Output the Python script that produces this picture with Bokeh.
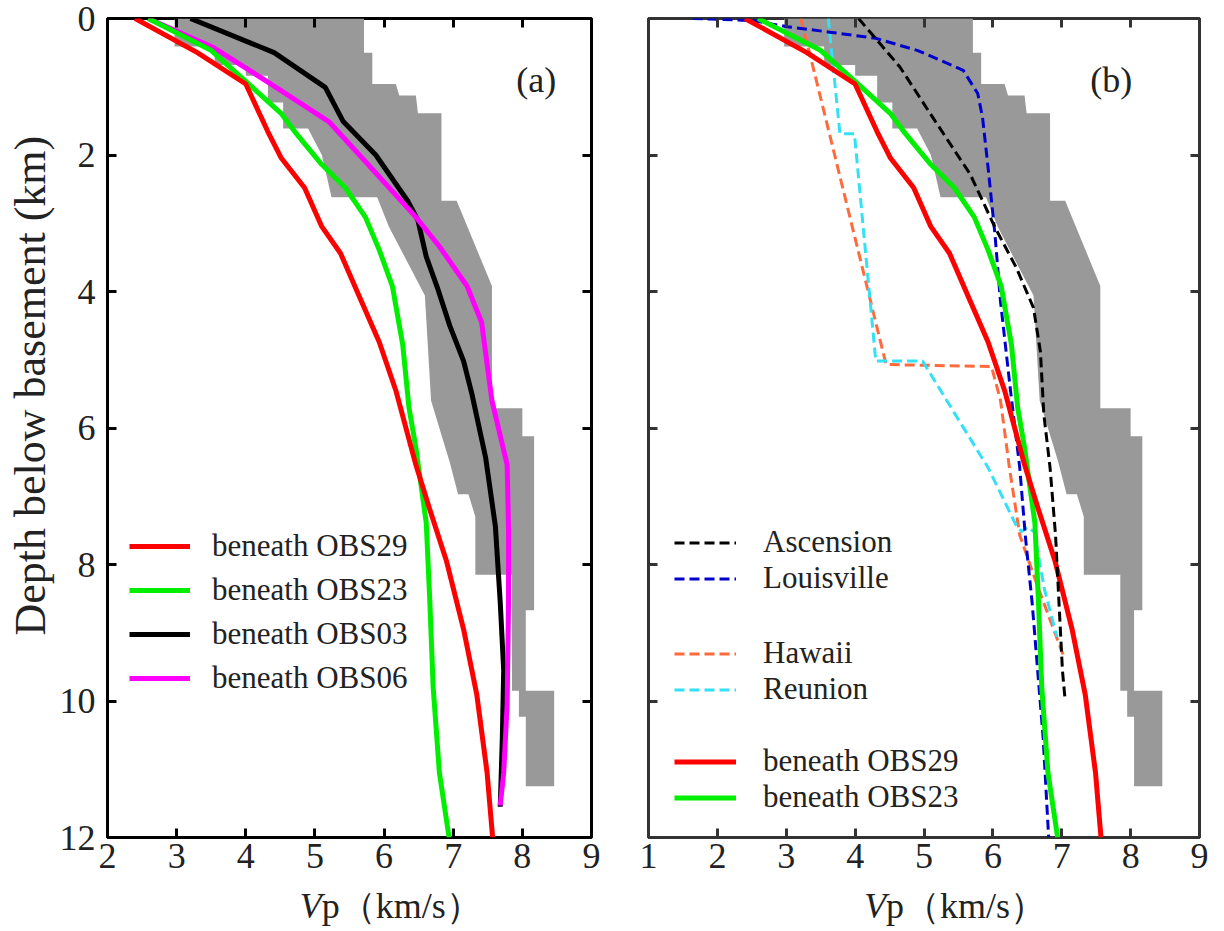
import numpy as np
from bokeh.plotting import figure
from bokeh.models import (Range1d, FixedTicker, LinearAxis, Label, Legend, LegendItem,
                          CustomJSTickFormatter)
from bokeh.layouts import gridplot
from bokeh.embed import file_html
from bokeh.resources import INLINE

# ---------------- data (Vp in km/s, depth below basement in km) ----------------
obs29_vp = [2.40, 3.30, 4.00, 4.32, 4.51, 4.85, 5.10, 5.37, 5.68, 5.93, 6.17, 6.46, 6.66, 6.90, 7.15, 7.34, 7.49, 7.57]
obs29_z = [0.00, 0.50, 0.96, 1.66, 2.04, 2.48, 3.05, 3.44, 4.16, 4.74, 5.45, 6.54, 7.19, 7.94, 8.95, 9.90, 11.05, 12.00]

obs23_vp = [2.59, 3.49, 4.02, 4.51, 4.71, 5.10, 5.44, 5.73, 5.93, 6.12, 6.27, 6.36, 6.46, 6.61, 6.66, 6.71, 6.80, 6.94]
obs23_z = [0.00, 0.46, 0.94, 1.39, 1.66, 2.14, 2.48, 2.91, 3.39, 3.92, 4.78, 5.70, 6.29, 7.39, 8.50, 9.80, 11.05, 12.00]

obs03_vp = [3.20, 4.41, 5.15, 5.41, 5.88, 6.34, 6.49, 6.61, 6.78, 6.95, 7.15, 7.27, 7.47, 7.61, 7.68, 7.73, 7.71, 7.68]
obs03_z = [0.00, 0.50, 1.01, 1.51, 2.00, 2.67, 2.96, 3.49, 3.97, 4.50, 5.02, 5.50, 6.44, 7.44, 8.55, 9.55, 10.55, 11.55]

obs06_vp = [2.59, 3.54, 4.41, 5.20, 5.68, 6.46, 6.80, 7.20, 7.41, 7.56, 7.78, 7.80, 7.80, 7.78, 7.73, 7.68]
obs06_z = [0.00, 0.43, 0.99, 1.51, 2.04, 2.91, 3.34, 3.92, 4.45, 5.60, 6.54, 7.49, 8.55, 10.05, 11.05, 11.53]

ascension_vp = [4.05, 4.65, 5.16, 5.67, 6.03, 6.34, 6.59, 6.69, 6.74, 6.83, 6.91, 6.96, 7.01, 7.05]
ascension_z = [0.00, 0.71, 1.50, 2.28, 3.06, 3.65, 4.24, 4.88, 5.80, 6.58, 7.57, 8.56, 9.55, 10.00]

louisville_vp = [1.64, 2.51, 3.02, 3.63, 4.30, 4.91, 5.57, 5.78, 5.85, 5.93, 5.98, 6.03, 6.11, 6.25, 6.39, 6.47, 6.57, 6.65, 6.73, 6.81]
louisville_z = [0.00, 0.03, 0.12, 0.20, 0.29, 0.47, 0.76, 1.10, 1.45, 2.18, 2.67, 3.16, 4.14, 5.40, 6.58, 7.57, 8.56, 9.55, 10.54, 12.00]

hawaii_vp = [3.21, 3.35, 4.45, 5.98, 6.11, 6.24, 6.39, 6.65, 7.03]
hawaii_z = [0.00, 0.55, 5.07, 5.10, 5.59, 6.58, 7.57, 8.32, 9.35]

reunion_vp = [3.61, 3.78, 3.99, 4.30, 4.98, 5.52, 5.93, 6.34, 6.42, 6.50, 6.60, 6.75, 6.93]
reunion_z = [0.00, 1.69, 1.69, 5.02, 5.02, 5.91, 6.58, 7.43, 7.52, 7.45, 7.52, 8.37, 9.06]

# grey envelope: left (slow) edge and right (fast) edge, top to bottom
band_left_vp = [2.97, 2.97, 3.55, 3.55, 4.00, 4.00, 4.32, 4.32, 4.54, 4.54, 4.90, 5.10, 5.24, 5.90, 6.07, 6.59,
                6.68, 6.95, 7.07, 7.22, 7.32, 7.32, 7.85, 7.85, 7.95, 7.95, 8.05, 8.05]
band_left_z = [0.00, 0.41, 0.41, 0.68, 0.68, 0.84, 0.84, 1.23, 1.23, 1.61, 1.61, 2.00, 2.62, 2.62, 3.05, 4.06,
               5.60, 6.50, 6.97, 6.97, 7.30, 8.15, 8.15, 9.85, 9.85, 10.23, 10.23, 11.25]
band_right_vp = [5.71, 5.71, 5.83, 5.83, 6.17, 6.22, 6.46, 6.49, 6.83, 6.83, 7.05, 7.56, 7.56, 8.00, 8.00, 8.17,
                 8.17, 8.05, 8.05, 8.46, 8.46]
band_right_z = [0.00, 0.50, 0.50, 0.96, 0.96, 1.13, 1.13, 1.39, 1.39, 2.67, 2.67, 3.92, 5.71, 5.71, 6.12, 6.12,
                8.67, 8.67, 9.85, 9.85, 11.25]

xticks_a = [2, 3, 4, 5, 6, 7, 8, 9]
xticks_b = [1, 2, 3, 4, 5, 6, 7, 8, 9]
yticks = [0, 2, 4, 6, 8, 10, 12]

FONT = "Liberation Serif"
TXT = "#222222"
RED, GREEN, BLACK, MAGENTA = "#FF0000", "#00EE00", "#000000", "#FF00FF"
GREY = "#999999"
ORANGE, CYAN, BLUE = "#FF6A3D", "#33E0F5", "#0000CC"

band_x = band_left_vp + band_right_vp[::-1]
band_y = band_left_z + band_right_z[::-1]

FRAME_TOP, FRAME_H, BOTTOM = 18, 819, 46
FIG_H = FRAME_TOP + FRAME_H + BOTTOM      # 883
CAP_H = 46                                 # caption strip under the panels
YLAB_W = 56                                # strip holding the vertical axis title


def style_axis(ax, ticks, color, labels=True, standoff=6):
    ax.ticker = FixedTicker(ticks=ticks)
    ax.major_tick_in = 9
    ax.major_tick_out = 0
    ax.minor_tick_in = 0
    ax.minor_tick_out = 0
    ax.major_tick_line_width = 3
    ax.major_tick_line_color = color
    ax.axis_line_color = None
    ax.major_label_text_font = FONT
    ax.major_label_text_color = TXT
    if labels:
        ax.major_label_text_font_size = "36px"
        ax.major_label_standoff = standoff
    else:
        ax.formatter = CustomJSTickFormatter(code="return ''")
        ax.major_label_text_font_size = "1px"
        ax.major_label_standoff = 0


def make_fig(width, xr, left_border, right_border, frame_color):
    p = figure(width=width, height=FIG_H, x_range=Range1d(*xr), y_range=Range1d(12, 0),
               output_backend="svg", toolbar_location=None, title=None,
               min_border_left=left_border, min_border_right=right_border,
               min_border_top=FRAME_TOP, min_border_bottom=BOTTOM)
    p.grid.visible = False
    p.outline_line_color = frame_color
    p.outline_line_width = 3
    p.background_fill_color = "white"
    p.border_fill_color = "white"
    return p


def helper(width, height, xr, yr, **borders):
    h = figure(width=width, height=height, x_range=xr, y_range=yr, output_backend="svg",
               toolbar_location=None, title=None, x_axis_location=None, y_axis_location=None,
               min_border_left=borders.get("left", 0), min_border_right=borders.get("right", 0),
               min_border_top=borders.get("top", 0), min_border_bottom=borders.get("bottom", 0))
    h.grid.visible = False
    h.outline_line_color = None
    h.background_fill_color = "white"
    h.border_fill_color = "white"
    return h


def add_legend(p, items, loc, gh, standoff, spacing, gw):
    leg = Legend(items=[LegendItem(label=l, renderers=[r]) for l, r in items],
                 location=loc, orientation="vertical", glyph_width=gw, glyph_height=gh,
                 label_height=gh, label_standoff=standoff, spacing=spacing, padding=0, margin=0,
                 border_line_color=None, background_fill_alpha=0,
                 label_text_font=FONT, label_text_font_size="31px", label_text_color=TXT)
    p.add_layout(leg)


def vp_caption(h, xpos):
    h.add_layout(Label(x=xpos, y=24, text="V", text_font=FONT, text_font_style="italic",
                       text_font_size="36px", text_color=TXT, text_align="right",
                       text_baseline="middle"))
    h.add_layout(Label(x=xpos, y=24, text="p（km/s）", text_font=FONT,
                       text_font_size="36px", text_color=TXT, text_align="left",
                       text_baseline="middle"))


# ---------------- panel (a) ----------------
A_LEFT, A_RIGHT = 49, 12
p1 = make_fig(A_LEFT + 486 + A_RIGHT, (2, 9), A_LEFT, A_RIGHT, "black")
style_axis(p1.xaxis[0], xticks_a, "black", standoff=6)
style_axis(p1.yaxis[0], yticks, "black", standoff=12)
top1 = LinearAxis()
style_axis(top1, xticks_a, "black", labels=False)
p1.add_layout(top1, "above")
right1 = LinearAxis()
style_axis(right1, yticks, "black", labels=False)
p1.add_layout(right1, "right")

p1.patch(band_x, band_y, fill_color=GREY, line_color=None)
r03 = p1.line(obs03_vp, obs03_z, line_color=BLACK, line_width=5)
r06 = p1.line(obs06_vp, obs06_z, line_color=MAGENTA, line_width=5)
r23a = p1.line(obs23_vp, obs23_z, line_color=GREEN, line_width=5)
r29a = p1.line(obs29_vp, obs29_z, line_color=RED, line_width=5)

add_legend(p1, [("beneath OBS29", r29a), ("beneath OBS23", r23a),
                ("beneath OBS03", r03), ("beneath OBS06", r06)], (22, 137), 44, 22, 0, 61)

p1.add_layout(Label(x=8.2, y=0.9, text="(a)", text_font=FONT, text_font_size="36px",
                    text_color=TXT, text_align="center", text_baseline="middle"))

# ---------------- panel (b) ----------------
FR2 = "#333333"
B_LEFT, B_RIGHT = 45, 14
p2 = make_fig(B_LEFT + 551 + B_RIGHT, (1, 9), B_LEFT, B_RIGHT, FR2)
style_axis(p2.xaxis[0], xticks_b, FR2, standoff=6)
style_axis(p2.yaxis[0], yticks, FR2, labels=False)
top2 = LinearAxis()
style_axis(top2, xticks_b, FR2, labels=False)
p2.add_layout(top2, "above")
right2 = LinearAxis()
style_axis(right2, yticks, FR2, labels=False)
p2.add_layout(right2, "right")

p2.patch(band_x, band_y, fill_color=GREY, line_color=None)
rh = p2.line(hawaii_vp, hawaii_z, line_color=ORANGE, line_width=3, line_dash="10 5")
rr = p2.line(reunion_vp, reunion_z, line_color=CYAN, line_width=3, line_dash="10 5")
rl = p2.line(louisville_vp, louisville_z, line_color=BLUE, line_width=3, line_dash="10 5")
r23b = p2.line(obs23_vp, obs23_z, line_color=GREEN, line_width=5)
r29b = p2.line(obs29_vp, obs29_z, line_color=RED, line_width=5)
ra = p2.line(ascension_vp, ascension_z, line_color=BLACK, line_width=3, line_dash="10 5")

add_legend(p2, [("Ascension", ra), ("Louisville", rl)], (26, 241), 33, 27, -1, 62)
add_legend(p2, [("Hawaii", rh), ("Reunion", rr)], (26, 130), 33, 27, -1, 62)
add_legend(p2, [("beneath OBS29", r29b), ("beneath OBS23", r23b)], (26, 22), 33, 27, -3, 62)

p2.add_layout(Label(x=7.72, y=0.9, text="(b)", text_font=FONT, text_font_size="36px",
                    text_color=TXT, text_align="center", text_baseline="middle"))

# ---------------- axis titles (in thin strips around the panels) ----------------
ylab = helper(YLAB_W, FIG_H, Range1d(0, YLAB_W), Range1d(12, 0), top=FRAME_TOP, bottom=BOTTOM)
ylab.add_layout(Label(x=30, y=5.38, text="Depth below basement (km)", angle=np.pi / 2,
                      text_font=FONT, text_font_size="44px", text_color=TXT,
                      text_align="center", text_baseline="middle"))

cap_a = helper(p1.width, CAP_H, Range1d(2, 9), Range1d(0, CAP_H), left=A_LEFT, right=A_RIGHT)
vp_caption(cap_a, 5.10)
cap_b = helper(p2.width, CAP_H, Range1d(1, 9), Range1d(0, CAP_H), left=B_LEFT, right=B_RIGHT)
vp_caption(cap_b, 4.45)

layout = gridplot([[ylab, p1, p2], [None, cap_a, cap_b]], toolbar_location=None)
open("out.html", "w").write(file_html(layout, INLINE))
